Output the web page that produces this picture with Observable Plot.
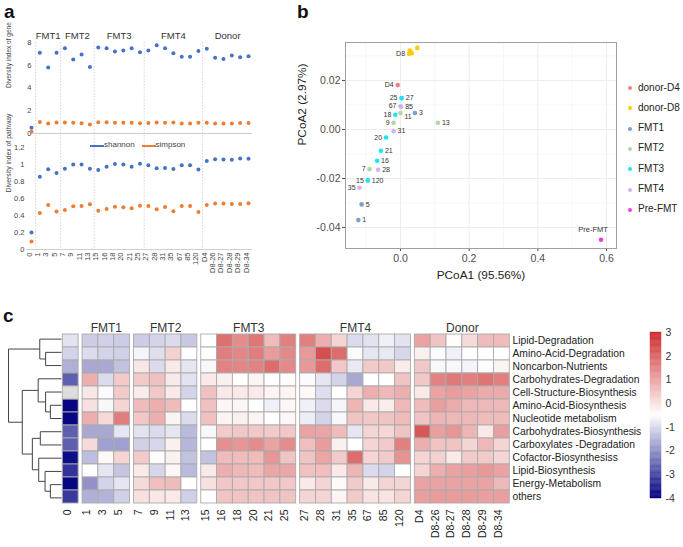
<!DOCTYPE html>
<html><head><meta charset="utf-8">
<script src="https://cdn.jsdelivr.net/npm/d3@7"></script>
<script src="https://cdn.jsdelivr.net/npm/@observablehq/plot@0.6"></script>
<style>
body{margin:0;background:#fff;}
#root{position:relative;width:683px;height:547px;overflow:hidden;background:#fff;font-family:"Liberation Sans",Arial,Helvetica,sans-serif;color:#222;}
.plab{position:absolute;font-weight:bold;font-size:19px;line-height:21px;color:#111;}
.leg{position:absolute;white-space:nowrap;}
</style></head><body><div id="root"></div>
<script>
// ---------- DATA ----------
const samples = ["0","1","3","5","7","9","11","13","15","16","18","20","21","25","27","28","31","35","67","85","120","D4","D8-26","D8-27","D8-28","D8-29","D8-34"];
const sampleGroup = ["Pre-FMT","FMT1","FMT1","FMT1","FMT2","FMT2","FMT2","FMT2","FMT3","FMT3","FMT3","FMT3","FMT3","FMT3","FMT4","FMT4","FMT4","FMT4","FMT4","FMT4","FMT4","Donor","Donor","Donor","Donor","Donor","Donor"];
const groupOrder = ["Pre-FMT","FMT1","FMT2","FMT3","FMT4","Donor"];

// panel a
const shannonGene = [0.5,7.1,5.8,7.1,7.5,6.5,6.95,5.85,7.55,7.5,7.2,7.3,7.5,7.15,7.3,7.75,7.5,7.05,6.75,6.75,7.25,7.45,6.65,6.55,6.85,6.7,6.8];
const simpsonGene = [0.15,1.02,0.88,0.96,0.96,0.94,0.91,0.8,0.98,0.98,0.94,0.94,0.94,0.91,0.92,0.96,0.94,0.96,0.88,0.88,0.94,0.94,0.88,0.88,0.89,0.92,0.92];
const shannonPathway = [0.2,0.855,0.945,0.9,0.95,1.0,1.0,0.95,0.935,0.975,1.005,1.0,0.975,1.01,0.99,0.955,0.96,0.946,0.99,0.99,0.94,1.04,1.063,1.06,1.055,1.07,1.067];
const simpsonPathway = [0.094,0.43,0.524,0.446,0.465,0.508,0.512,0.532,0.457,0.477,0.504,0.496,0.485,0.516,0.512,0.473,0.5,0.45,0.512,0.512,0.44,0.524,0.54,0.54,0.535,0.535,0.543];

// panel b
const pcoaGroupNames = ["donor-D4","donor-D8","FMT1","FMT2","FMT3","FMT4","Pre-FMT"];
const pcoaGroupColors = ["#F08080","#FFCC00","#7B9ED3","#B2D8A4","#17E8F0","#D3B2F2","#F53BE0"];
const pcoaLabel = ["Pre-FMT","1","3","5","7","9","11","13","27","28","31","35","67","85","120","15","16","18","20","21","25","D4","","","","D8",""];
const pcoaGroup = ["Pre-FMT","FMT1","FMT1","FMT1","FMT2","FMT2","FMT2","FMT2","FMT4","FMT4","FMT4","FMT4","FMT4","FMT4","FMT4","FMT3","FMT3","FMT3","FMT3","FMT3","FMT3","donor-D4","donor-D8","donor-D8","donor-D8","donor-D8","donor-D8"];
const pcoa1 = [0.584,-0.1226,0.042,-0.113,-0.09,-0.02,0.0,0.109,0.004,-0.065,-0.02,-0.119,0.0,0.002,-0.095,-0.095,-0.068,-0.015,-0.042,-0.057,0.003,-0.008,0.027,0.033,0.049,0.025,0.030];
const pcoa2 = [-0.045,-0.037,0.0067,-0.0306,-0.0162,0.0027,0.0067,0.0027,0.0128,-0.0165,-0.0007,-0.0238,0.0095,0.0093,-0.0208,-0.0208,-0.0128,0.006,-0.0033,-0.0087,0.0128,0.0181,0.0322,0.0311,0.0333,0.0309,0.0316];

// panel c
const pathways = ["Lipid-Degradation","Amino-Acid-Degradation","Noncarbon-Nutrients","Carbohydrates-Degradation","Cell-Structure-Biosynthesis","Amino-Acid-Biosynthesis","Nucleotide metabolism","Carbohydrates-Biosynthesis","Carboxylates -Degradation","Cofactor-Biosynthesiss","Lipid-Biosynthesis","Energy-Metabolism","others"];
const heat = [
 [-0.9,-1.2,-1.15,-1.2,-1.2,-1.1,-1.0,-1.25,-0.5,1.8,1.35,1.7,0.6,1.55,1.55,0.8,0.2,-1.0,-0.9,-0.7,-0.9,1.0,0.45,-0.45,0.1,0.6,0.6],
 [-1.1,-1.0,-1.1,-1.15,-0.65,-0.95,0.25,-0.5,-0.5,1.6,1.45,1.6,1.1,1.4,1.15,2.35,1.85,-0.55,-0.85,-0.8,-1.05,-0.25,-0.55,-0.7,-0.5,-0.5,-0.5],
 [-1.6,-1.7,-1.7,-1.35,-0.1,-1.0,-0.15,-0.85,-0.6,1.5,1.45,1.5,1.85,1.4,1.15,1.85,0.4,-0.8,0.35,0.4,-0.2,0.4,-0.6,-0.6,-0.65,-0.5,-0.3],
 [-2.7,0.8,-1.0,0.35,0.35,0.5,-0.15,-0.9,-0.15,-0.25,-0.5,-0.3,-0.5,-0.45,-0.55,-0.85,-1.1,-1.7,-0.5,-0.5,0.45,0.4,1.5,1.65,1.55,1.75,1.55],
 [null,-0.1,-0.55,0.35,-0.2,0.4,-0.15,-1.1,0.5,-0.15,-0.15,-0.15,-0.3,-0.3,-0.4,-0.95,-0.5,0.2,0.8,0.65,0.8,-0.15,1.0,1.1,1.0,0.85,0.85],
 [-3.9,0.0,-0.6,0.2,0.6,0.8,0.6,-0.5,0.5,-0.35,-0.35,-0.5,-0.7,-0.35,-0.7,-1.0,-0.65,0.7,-0.15,-0.2,0.65,0.6,1.05,0.85,0.65,0.65,0.65],
 [-3.9,0.8,0.1,1.6,0.4,0.8,-0.3,-1.0,0.5,-0.3,-0.25,-0.3,-0.5,-0.35,-0.75,-1.1,-0.6,0.45,0.4,0.45,0.6,0.45,0.7,0.65,0.65,0.6,0.6],
 [-2.7,-1.7,-1.7,-0.85,-0.9,-1.0,-0.85,-1.45,-0.6,0.35,0.4,0.4,0.35,0.4,1.0,0.95,0.6,-0.85,0.2,0.15,0.45,2.2,1.05,1.2,0.7,-0.15,1.05],
 [-2.7,0.1,-1.8,-1.8,-1.15,-1.05,-0.25,-1.5,-0.5,1.3,1.2,1.35,1.0,1.35,0.55,1.1,-0.25,-0.5,0.2,0.35,1.55,0.8,0.45,0.45,0.2,0.65,0.2],
 [-3.8,-1.4,-0.4,0.2,0.35,-0.45,-0.25,-1.35,-1.35,0.6,0.6,0.6,1.2,0.45,0.45,0.95,0.35,1.85,0.2,0.35,1.25,0.2,0.25,-0.15,0.35,0.35,0.2],
 [-3.3,-0.5,-0.85,-1.3,-0.15,-1.05,-0.35,-1.45,-0.15,0.8,0.65,0.6,0.95,0.9,0.5,0.55,-0.15,0.7,-1.0,-1.1,-0.5,0.2,0.8,1.0,1.05,1.15,1.0],
 [-3.9,-2.0,-1.1,-0.85,0.1,0.55,0.6,-0.5,0.0,0.4,0.4,0.4,0.4,0.4,-0.15,0.2,-0.4,0.35,-0.15,0.2,0.2,1.0,1.0,1.0,1.0,1.0,0.65],
 [-3.2,-1.6,-1.55,-1.15,0.0,-0.1,-0.15,-1.15,-0.5,0.45,0.45,0.45,0.45,0.45,0.2,0.2,-0.3,0.35,-0.05,-0.05,0.2,1.05,1.1,1.1,1.1,1.05,1.05]
];
// row dendrogram (R hclust style: negative = leaf row, positive = earlier merge)
const dendroMerge = [[-2,-3],[-1,1],[-6,-7],[-5,3],[-4,4],[-12,-13],[-11,6],[-10,7],[-8,-9],[9,8],[5,10],[2,11]];
const dendroHeight = [0.30,0.41,0.21,0.30,0.44,0.21,0.31,0.43,0.40,0.55,0.74,1.0];
const colorbarTicks = [-4,-3,-2,-1,0,1,2,3];

// ---------- RENDER ----------
const W = 683, H = 547;
const FONT = '"Liberation Sans", Arial, Helvetica, sans-serif';
const root = document.getElementById("root");
const BLUE = "#4472C4", ORANGE = "#ED7D31";
function mount(svg, fontSize, color) {
  svg.style.position = "absolute"; svg.style.left = "0px"; svg.style.top = "0px";
  svg.style.background = "transparent"; svg.style.overflow = "visible";
  svg.style.fontFamily = FONT; svg.style.fontSize = fontSize; svg.style.color = color || "#333";
  svg.style.maxWidth = "none";
  root.appendChild(svg);
}
function html(tag, cls, text, css) {
  const e = document.createElement(tag); if (cls) e.className = cls; if (text != null) e.textContent = text;
  Object.assign(e.style, css || {}); root.appendChild(e); return e;
}

// ---- panel a ----
const idx = samples.map((s, i) => i);
const seps = idx.slice(1).filter(i => sampleGroup[i] !== sampleGroup[i - 1]).map(i => i - 0.5);
const aGroups = groupOrder.slice(1).map(g => ({g, c: d3.mean(idx.filter(i => sampleGroup[i] === g))}));

mount(Plot.plot({
  width: W, height: H, marginLeft: 33, marginRight: W - 252, marginTop: 42, marginBottom: H - 133,
  x: {type: "linear", domain: [0, 26], range: [31, 248], axis: null},
  y: {domain: [0, 8], range: [133, 42], ticks: [0, 2, 4, 6, 8], tickSize: 0, tickPadding: 2, label: null},
  marks: [
    Plot.ruleX(seps, {stroke: "#d6d6d6", strokeDasharray: "1.5,1.5"}),
    Plot.ruleY([0], {stroke: "#cfcfcf"}),
    Plot.dot(idx, {x: i => i, y: i => simpsonGene[i], r: 2, fill: ORANGE}),
    Plot.dot(idx, {x: i => i, y: i => shannonGene[i], r: 2, fill: BLUE}),
    Plot.text(aGroups, {x: "c", text: "g", frameAnchor: "top", dy: -10, fontSize: 9.5, fill: "#333"}),
    Plot.text(["Diversity index of gene"], {frameAnchor: "left", rotate: -90, dx: -25, fontSize: 6.5, fill: "#444"})
  ]
}), "7.5px", "#444");

mount(Plot.plot({
  width: W, height: H, marginLeft: 26, marginRight: W - 252, marginTop: 135, marginBottom: H - 249,
  x: {type: "linear", domain: [0, 26], range: [31, 248], axis: null},
  y: {domain: [0, 1.2], range: [249, 147], ticks: [0, 0.2, 0.4, 0.6, 0.8, 1, 1.2], tickFormat: d => String(Math.round(d * 10) / 10), tickSize: 0, tickPadding: 2, label: null},
  marks: [
    Plot.ruleX(seps, {stroke: "#d6d6d6", strokeDasharray: "1.5,1.5"}),
    Plot.ruleY([0], {stroke: "#cfcfcf"}),
    Plot.dot(idx, {x: i => i, y: i => simpsonPathway[i], r: 2, fill: ORANGE}),
    Plot.dot(idx, {x: i => i, y: i => shannonPathway[i], r: 2, fill: BLUE}),
    Plot.text(idx, {x: i => i, text: i => samples[i], frameAnchor: "bottom", rotate: -90, textAnchor: "end", dy: 3, fontSize: 7.5, fill: "#444"}),
    Plot.text(["Diversity index of pathway"], {frameAnchor: "left", rotate: -90, dx: -18, fontSize: 6.8, fill: "#444"})
  ]
}), "7.5px", "#444");

// panel a legend
[["shannon", BLUE, 90], ["simpson", ORANGE, 141.5]].forEach(([t, c, x]) => {
  html("div", "leg", null, {left: x + "px", top: "145px", width: "14px", height: "1.6px", background: c});
  html("div", "leg", t, {left: (x + 14) + "px", top: "140px", fontSize: "8px", lineHeight: "10px", color: "#444"});
});

// ---- panel b ----
const pts = pcoa1.map((x, i) => ({x, y: pcoa2[i], g: pcoaGroup[i], label: pcoaLabel[i]}));
const colorOf = g => pcoaGroupColors[pcoaGroupNames.indexOf(g)];
const labelLeft = new Set(["D4", "25", "67", "18", "9", "20", "7", "15", "35", "D8"]);
const labelLow = new Set(["11"]);
const lab = pts.filter(d => d.label);
mount(Plot.plot({
  width: W, height: H, marginLeft: 345, marginRight: W - 616, marginTop: 42, marginBottom: H - 248,
  x: {domain: [-0.16, 0.629], ticks: [0, 0.2, 0.4, 0.6], tickFormat: d => d.toFixed(1), tickSize: 3, tickPadding: 3, label: null},
  y: {domain: [-0.0486, 0.0355], ticks: [-0.04, -0.02, 0, 0.02], tickFormat: d => d.toFixed(2), tickSize: 3, tickPadding: 2, label: null},
  marks: [
    Plot.ruleX([-0.1, 0.1, 0.3, 0.5], {stroke: "#f6f6f6"}),
    Plot.ruleY([-0.03, -0.01, 0.01, 0.03], {stroke: "#f6f6f6"}),
    Plot.ruleX([0, 0.2, 0.4, 0.6], {stroke: "#ededed"}),
    Plot.ruleY([-0.04, -0.02, 0, 0.02], {stroke: "#ededed"}),
    Plot.frame({stroke: "#a0a0a0"}),
    Plot.dot(pts, {x: "x", y: "y", r: 2.3, fill: d => colorOf(d.g)}),
    Plot.text(lab.filter(d => labelLeft.has(d.label)), {x: "x", y: "y", text: "label", textAnchor: "end", dx: -4, fontSize: 7, fill: "#333"}),
    Plot.text(lab.filter(d => !labelLeft.has(d.label) && !labelLow.has(d.label) && d.label !== "Pre-FMT"), {x: "x", y: "y", text: "label", textAnchor: "start", dx: 4, fontSize: 7, fill: "#333"}),
    Plot.text(lab.filter(d => labelLow.has(d.label)), {x: "x", y: "y", text: "label", textAnchor: "start", dx: 4, dy: 4, fontSize: 7, fill: "#333"}),
    Plot.text(lab.filter(d => d.label === "Pre-FMT"), {x: "x", y: "y", text: "label", dx: -8, dy: -10, fontSize: 7.5, fill: "#333"}),
    Plot.text(["PCoA1 (95.56%)"], {frameAnchor: "bottom", dy: 30, fontSize: 11.8, fill: "#222"}),
    Plot.text(["PCoA2 (2.97%)"], {frameAnchor: "left", rotate: -90, dx: -43, fontSize: 11.8, fill: "#222"})
  ]
}), "10.5px", "#4d4d4d");

// panel b legend
pcoaGroupNames.forEach((g, i) => {
  const y = 88 + 20.3 * i;
  html("div", "leg", null, {left: "628px", top: (y - 2) + "px", width: "4px", height: "4px", borderRadius: "50%", background: pcoaGroupColors[i]});
  html("div", "leg", g, {left: "638px", top: (y - 6.5) + "px", fontSize: "10px", lineHeight: "12px", color: "#222"});
});

// ---- panel c ----
const GAP = 0.25;
const gi = samples.map((s, c) => groupOrder.indexOf(sampleGroup[c]));
const cells = [];
pathways.forEach((p, r) => samples.forEach((s, c) => cells.push({p, s, v: heat[r][c], x1: c + gi[c] * GAP, x2: c + 1 + gi[c] * GAP})));
const colorOpts = {type: "linear", domain: [-4, -0.5, 3], range: ["#000080", "#ffffff", "#CD2626"], interpolate: "rgb"};
const cGroups = groupOrder.slice(1).map(g => {
  const cs = idx.filter(c => sampleGroup[c] === g);
  return {g, c: (cs[0] + gi[cs[0]] * GAP + cs[cs.length - 1] + 1 + gi[cs[0]] * GAP) / 2};
});
mount(Plot.plot({
  width: W, height: H, marginLeft: 62, marginRight: W - 510, marginTop: 332, marginBottom: H - 504,
  x: {type: "linear", domain: [0, 27 + 5 * GAP], range: [62.3, 509.3], axis: null},
  y: {type: "band", domain: pathways, range: [332, 504], padding: 0, axis: null},
  color: colorOpts,
  marks: [
    Plot.barX(cells.filter(d => d.v != null), {x1: "x1", x2: "x2", y: "p", fill: "v", stroke: "#ababab", strokeWidth: 0.9}),
    Plot.barX(cells.filter(d => d.v == null), {x1: "x1", x2: "x2", y: "p", fill: "#DDDDDD", stroke: "#ababab", strokeWidth: 0.9}),
    Plot.text(cGroups, {x: "c", text: "g", frameAnchor: "top", dy: -9, fontSize: 12, fill: "#333"}),
    Plot.text(idx, {x: c => c + 0.5 + gi[c] * GAP, text: c => samples[c], frameAnchor: "bottom", rotate: -90, textAnchor: "end", dy: 5, fontSize: 10.5, fill: "#222"}),
    Plot.text(pathways, {y: d => d, text: d => d, frameAnchor: "right", textAnchor: "start", dx: 2, fontSize: 10.3, fill: "#222"})
  ]
}), "10px", "#222");

// dendrogram
const dnodes = [], dseg = [];
const nodeOf = k => k < 0 ? {y: -k - 1, h: 0} : dnodes[k - 1];
dendroMerge.forEach(([a, b], i) => {
  const h = dendroHeight[i], A = nodeOf(a), B = nodeOf(b);
  dseg.push({x1: A.h, x2: h, y1: A.y, y2: A.y});
  dseg.push({x1: B.h, x2: h, y1: B.y, y2: B.y});
  dseg.push({x1: h, x2: h, y1: A.y, y2: B.y});
  dnodes.push({y: (A.y + B.y) / 2, h});
});
mount(Plot.plot({
  width: W, height: H, marginLeft: 8, marginRight: W - 61, marginTop: 332, marginBottom: H - 504,
  x: {domain: [0, 1], range: [61, 8], axis: null},
  y: {domain: [-0.5, 12.5], range: [332, 504], axis: null},
  marks: [Plot.link(dseg, {x1: "x1", y1: "y1", x2: "x2", y2: "y2", stroke: "#444", strokeWidth: 1})]
}), "10px", "#222");

// colour bar
const stops = d3.range(-4, 3, 0.05);
mount(Plot.plot({
  width: W, height: H, marginLeft: 650, marginRight: W - 661, marginTop: 332, marginBottom: H - 498,
  x: {domain: [0, 1], axis: null},
  y: {domain: [-4, 3], axis: "right", ticks: colorbarTicks, tickFormat: d => String(d), tickSize: 0, tickPadding: 4, label: null},
  color: colorOpts,
  marks: [Plot.rect(stops, {x1: () => 0, x2: () => 1, y1: d => d, y2: d => d + 0.05, fill: d => d, stroke: d => d, strokeWidth: 0.4})]
}), "10.5px", "#333");

// panel letters
html("div", "plab", "a", {left: "4px", top: "1px"});
html("div", "plab", "b", {left: "297px", top: "1px"});
html("div", "plab", "c", {left: "3px", top: "305px"});
</script></body></html>
